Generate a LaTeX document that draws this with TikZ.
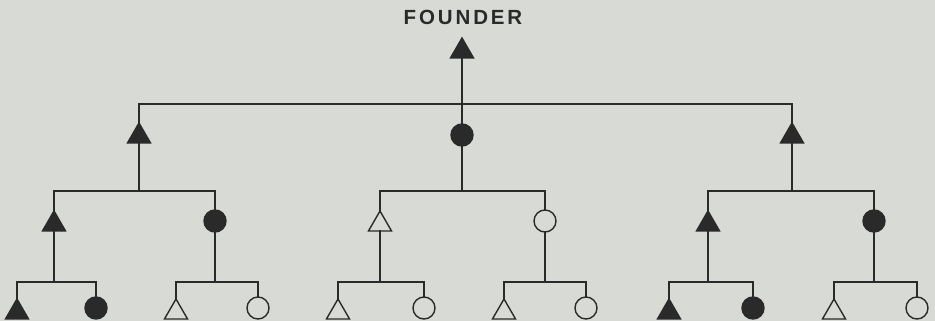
\documentclass[tikz,border=0pt]{standalone}
\usepackage{fontspec}
\setmainfont{Liberation Sans}
\usetikzlibrary{shapes.geometric}
\definecolor{paper}{HTML}{D8DAD5}
\definecolor{ink}{HTML}{2A2A2A}
\tikzset{
  kin/.style={draw=ink, line width=1.4pt, inner sep=0pt, outer sep=0pt},
  tri/.style={kin, regular polygon, regular polygon sides=3, minimum size=26.6pt},
  circ/.style={kin, circle, minimum size=22pt},
  ftri/.style={tri, fill=ink},
  otri/.style={tri, fill=none},
  fcirc/.style={circ, fill=ink},
  ocirc/.style={circ, fill=none},
  link/.style={draw=ink, line width=1.4pt, line cap=rect},
}
\begin{document}
\begin{tikzpicture}[x=1pt, y=-1pt]
\fill[paper] (0,0) rectangle (935,321);
\useasboundingbox (0,0) rectangle (935,321);
% title
\node[font=\bfseries\fontsize{20.5}{24}\selectfont\addfontfeature{LetterSpace=14}, text=ink, inner sep=0pt] (title) at (463,17.5) {FOUNDER};
% bar levels
\coordinate (b0) at (0,104);
\coordinate (b1) at (0,191);
\coordinate (b2) at (0,282);
% founder
\node[ftri] (F) at (462,51.3) {};
% level 1
\node[ftri]  (A) at (139,136.3) {};
\node[fcirc] (B) at (462,135) {};
\node[ftri]  (C) at (792,136.3) {};
% level 2
\node[ftri]  (A1) at (54,224.3) {};
\node[fcirc] (A2) at (215,221) {};
\node[otri]  (B1) at (380,224.3) {};
\node[ocirc] (B2) at (545,221) {};
\node[ftri]  (C1) at (708,224.3) {};
\node[fcirc] (C2) at (874,221) {};
% level 3
\node[ftri]  (A1a) at (17,312.3) {};
\node[fcirc] (A1b) at (96,308) {};
\node[otri]  (A2a) at (176,312.3) {};
\node[ocirc] (A2b) at (258,308) {};
\node[otri]  (B1a) at (338,312.3) {};
\node[ocirc] (B1b) at (424,308) {};
\node[otri]  (B2a) at (504,312.3) {};
\node[ocirc] (B2b) at (586,308) {};
\node[ftri]  (C1a) at (669,312.3) {};
\node[fcirc] (C1b) at (753,308) {};
\node[otri]  (C2a) at (834,312.3) {};
\node[ocirc] (C2b) at (917,308) {};
% founder -> level 1
\draw[link] (F.side 2) -- (F.side 2 |- b0);
\draw[link] (A.corner 1) -- (A.corner 1 |- b0) -- (C.corner 1 |- b0) -- (C.corner 1);
\draw[link] (B.north) -- (B.north |- b0);
% level 1 -> level 2
\draw[link] (A.side 2) -- (A.side 2 |- b1);
\draw[link] (A1.corner 1) -- (A1.corner 1 |- b1) -- (A2.north |- b1) -- (A2.north);
\draw[link] (B.south) -- (B.south |- b1);
\draw[link] (B1.corner 1) -- (B1.corner 1 |- b1) -- (B2.north |- b1) -- (B2.north);
\draw[link] (C.side 2) -- (C.side 2 |- b1);
\draw[link] (C1.corner 1) -- (C1.corner 1 |- b1) -- (C2.north |- b1) -- (C2.north);
% level 2 -> level 3
\draw[link] (A1.side 2) -- (A1.side 2 |- b2);
\draw[link] (A1a.corner 1) -- (A1a.corner 1 |- b2) -- (A1b.north |- b2) -- (A1b.north);
\draw[link] (A2.south) -- (A2.south |- b2);
\draw[link] (A2a.corner 1) -- (A2a.corner 1 |- b2) -- (A2b.north |- b2) -- (A2b.north);
\draw[link] (B1.side 2) -- (B1.side 2 |- b2);
\draw[link] (B1a.corner 1) -- (B1a.corner 1 |- b2) -- (B1b.north |- b2) -- (B1b.north);
\draw[link] (B2.south) -- (B2.south |- b2);
\draw[link] (B2a.corner 1) -- (B2a.corner 1 |- b2) -- (B2b.north |- b2) -- (B2b.north);
\draw[link] (C1.side 2) -- (C1.side 2 |- b2);
\draw[link] (C1a.corner 1) -- (C1a.corner 1 |- b2) -- (C1b.north |- b2) -- (C1b.north);
\draw[link] (C2.south) -- (C2.south |- b2);
\draw[link] (C2a.corner 1) -- (C2a.corner 1 |- b2) -- (C2b.north |- b2) -- (C2b.north);
\end{tikzpicture}
\end{document}
